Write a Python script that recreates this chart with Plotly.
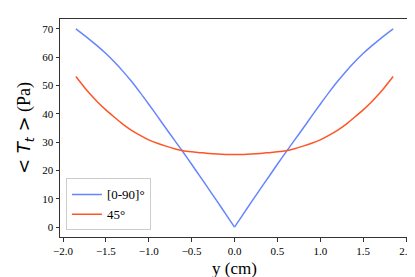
import plotly.graph_objects as go

# half-profile values (mirrored about y=0)
y_half = [0.0, 0.1, 0.2, 0.3, 0.4, 0.5, 0.6, 0.7, 0.8, 0.9, 1.0, 1.1, 1.2, 1.3, 1.4, 1.5, 1.6, 1.7, 1.85]
t_0_90_half = [0.0, 4.5, 9.0, 13.4, 17.8, 22.2, 26.5, 30.7, 34.9, 39.2, 43.4, 47.5, 51.4, 55.0, 58.3, 61.3, 64.0, 66.5, 70.0]
t_45_half = [25.6, 25.65, 25.8, 26.0, 26.3, 26.6, 27.0, 27.7, 28.6, 29.6, 30.8, 32.4, 34.2, 36.3, 38.8, 41.4, 44.3, 47.5, 53.2]

y_neg = [-v for v in y_half[::-1]]
t_0_90_neg = t_0_90_half[::-1]
y_cm = [-v for v in y_half[:0:-1]] + y_half
t_45 = t_45_half[:0:-1] + t_45_half

x_ticks = [-2.0, -1.5, -1.0, -0.5, 0.0, 0.5, 1.0, 1.5, 2.0]
y_ticks = [0, 10, 20, 30, 40, 50, 60, 70]

blue = dict(color="#6685FF", width=1.5, shape="spline", smoothing=0.6)
fig = go.Figure()
fig.add_trace(go.Scatter(x=y_neg, y=t_0_90_neg, mode="lines", name="[0-90]°",
                         legendgroup="a", line=blue))
fig.add_trace(go.Scatter(x=y_half, y=t_0_90_half, mode="lines", name="[0-90]°",
                         legendgroup="a", showlegend=False, line=blue))
fig.add_trace(go.Scatter(x=y_cm, y=t_45, mode="lines", name="45°",
                         line=dict(color="#FF5526", width=1.5, shape="spline", smoothing=0.6)))

serif = "Liberation Serif"
axis_common = dict(showline=True, linecolor="#333", linewidth=1, mirror=True,
                   ticks="outside", ticklen=3.5, tickwidth=0.8, tickcolor="#333",
                   showgrid=False, zeroline=False,
                   tickfont=dict(family=serif, size=11, color="black"))

fig.update_layout(
    width=415, height=277,
    margin=dict(l=52, r=12, t=10, b=48),
    paper_bgcolor="white", plot_bgcolor="white",
    showlegend=True,
    legend=dict(x=0.017, y=0.03, xanchor="left", yanchor="bottom",
                bgcolor="rgba(255,255,255,0.8)", bordercolor="#ccc", borderwidth=1,
                font=dict(family=serif, size=13, color="black"),
                tracegroupgap=0, itemwidth=30),
)
fig.update_xaxes(range=[-2.035, 2.035], tickvals=x_ticks,
                 ticktext=[f"{v:.1f}".replace("-", "\u2212") for v in x_ticks],
                 title=dict(text="y (cm)", font=dict(family=serif, size=17, color="black"), standoff=6),
                 **axis_common)
fig.update_yaxes(range=[-3.5, 73.5], tickvals=y_ticks,
                 title=dict(text='<span style="font-family:DejaVu Sans">< <i>T</i><sub><i>t</i></sub> ></span> (Pa)',
                            font=dict(family=serif, size=18, color="black"), standoff=6),
                 **axis_common)

fig.write_html("out.html")
